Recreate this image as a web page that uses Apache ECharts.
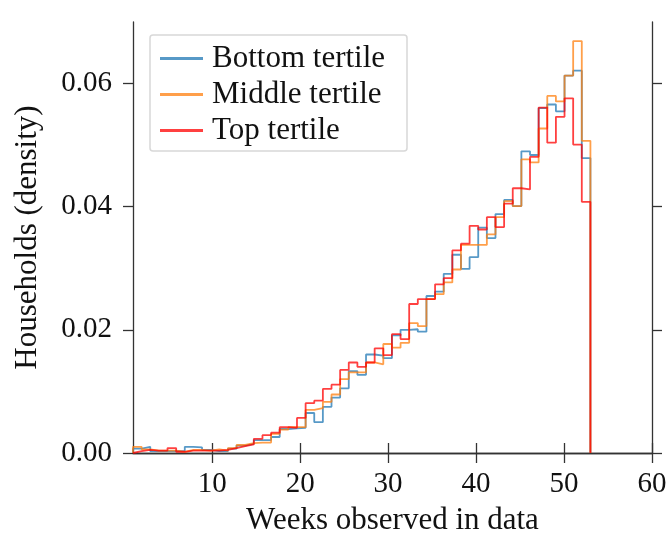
<!DOCTYPE html>
<html>
<head>
<meta charset="utf-8">
<script src="https://cdn.jsdelivr.net/npm/echarts@6/dist/echarts.min.js"></script>
<style>
html,body{margin:0;padding:0;background:#fff;}
#chart{width:668px;height:533px;}
</style>
</head>
<body>
<div id="chart"></div>
<script>
// Histogram bins: 53 equal-width bins spanning weeks 1..53
const binStart = 1;
const binEnd = 53;
const binCount = 53;

const seriesNames = ['Bottom tertile', 'Middle tertile', 'Top tertile'];

const bottomTertile = [
  0.0007, 0.0010, 0.0003, 0.0003, 0.0003, 0.0003, 0.0010, 0.0009, 0.0005, 0.0003,
  0.0003, 0.0007, 0.0012, 0.0015, 0.0021, 0.0021, 0.0026, 0.0039, 0.0040, 0.0041,
  0.0065, 0.0050, 0.0075, 0.0090, 0.0105, 0.0133, 0.0127, 0.0160, 0.0158, 0.0154,
  0.0191, 0.0200, 0.0201, 0.0197, 0.0255, 0.0262, 0.0291, 0.0322, 0.0299, 0.0318,
  0.0366, 0.0349, 0.0388, 0.0411, 0.0401, 0.0490, 0.0484, 0.0560, 0.0566, 0.0555,
  0.0613, 0.0621, 0.0479
];
const middleTertile = [
  0.0010, 0.0006, 0.0004, 0.0004, 0.0004, 0.0002, 0.0005, 0.0005, 0.0004, 0.0006,
  0.0004, 0.0008, 0.0013, 0.0016, 0.0017, 0.0017, 0.0031, 0.0038, 0.0042, 0.0042,
  0.0070, 0.0073, 0.0083, 0.0095, 0.0120, 0.0131, 0.0131, 0.0147, 0.0144, 0.0177,
  0.0171, 0.0179, 0.0211, 0.0206, 0.0250, 0.0258, 0.0277, 0.0298, 0.0338, 0.0338,
  0.0338, 0.0355, 0.0383, 0.0409, 0.0401, 0.0477, 0.0472, 0.0527, 0.0580, 0.0571,
  0.0613, 0.0669, 0.0507
];
const topTertile = [
  0.0003, 0.0005, 0.0004, 0.0004, 0.0008, 0.0002, 0.0004, 0.0004, 0.0004, 0.0004,
  0.0005, 0.0008, 0.0011, 0.0014, 0.0023, 0.0029, 0.0033, 0.0042, 0.0041, 0.0057,
  0.0081, 0.0085, 0.0104, 0.0111, 0.0135, 0.0147, 0.0140, 0.0147, 0.0170, 0.0159,
  0.0193, 0.0185, 0.0242, 0.0250, 0.0250, 0.0274, 0.0284, 0.0329, 0.0340, 0.0369,
  0.0363, 0.0383, 0.0367, 0.0405, 0.0430, 0.0428, 0.0481, 0.0561, 0.0504, 0.0546,
  0.0576, 0.0501, 0.0408
];

const xTicks = [10, 20, 30, 40, 50, 60];
const yTicks = [0, 0.02, 0.04, 0.06];

const FONT = "'Liberation Serif', 'Times New Roman', serif";
const colors = ['rgba(31,119,180,0.75)', 'rgba(255,127,14,0.75)', 'rgba(255,0,0,0.75)'];

const binWidth = (binEnd - binStart) / binCount;
const edges = [];
for (let k = 0; k <= binCount; k++) edges.push(binStart + k * binWidth);

function stepData(vals) {
  const pts = [[edges[0], 0]];
  for (let j = 0; j < vals.length; j++) pts.push([edges[j], vals[j]]);
  pts.push([edges[vals.length], vals[vals.length - 1]]);
  pts.push([edges[vals.length], 0]);
  return pts;
}

const axisLineStyle = { color: '#333', width: 1.3 };
const tickStyle = { color: '#333', width: 1.3 };

const chart = echarts.init(document.getElementById('chart'), null, { renderer: 'canvas' });
chart.setOption({
  animation: false,
  backgroundColor: '#fff',
  grid: { left: 133, right: 16, top: 22, bottom: 80, containLabel: false, outerBoundsMode: 'none' },
  graphic: [{
    type: 'rect', z: 50,
    shape: { x: 150, y: 35, width: 257, height: 116, r: 3 },
    style: { fill: 'rgba(255,255,255,0.85)', stroke: '#d8d8d8', lineWidth: 1.5 }
  }],
  legend: {
    z: 60,
    orient: 'vertical', left: 160, top: 43, padding: 0,
    itemWidth: 43, itemHeight: 3, itemGap: 5,
    icon: 'rect',
    data: seriesNames,
    textStyle: { fontFamily: FONT, fontSize: 31, color: '#111', lineHeight: 30, padding: [0, 0, 0, 4] }
  },
  xAxis: [{
    type: 'value', min: 1, max: 60, position: 'bottom',
    name: 'Weeks observed in data', nameLocation: 'middle', nameGap: 52,
    nameTextStyle: { fontFamily: FONT, fontSize: 31, color: '#111' },
    axisLine: { show: true, lineStyle: axisLineStyle },
    axisTick: { show: true, inside: false, length: 10, lineStyle: tickStyle, customValues: xTicks },
    axisLabel: { show: true, margin: 17, fontFamily: FONT, fontSize: 29, color: '#111', customValues: xTicks },
    splitLine: { show: false }
  }, {
    type: 'value', min: 1, max: 60, position: 'top',
    axisLine: { show: true, lineStyle: axisLineStyle },
    axisTick: { show: true, inside: false, length: 10, lineStyle: tickStyle, customValues: xTicks },
    axisLabel: { show: false },
    splitLine: { show: false }
  }],
  yAxis: [{
    type: 'value', min: 0, max: 0.07, position: 'left',
    name: 'Households (density)', nameLocation: 'middle', nameGap: 90,
    nameTextStyle: { fontFamily: FONT, fontSize: 31, color: '#111' },
    axisLine: { show: true, lineStyle: axisLineStyle },
    axisTick: { show: true, inside: false, length: 10, lineStyle: tickStyle, customValues: yTicks },
    axisLabel: { show: true, margin: 21, fontFamily: FONT, fontSize: 29, color: '#111', customValues: yTicks,
      formatter: v => v.toFixed(2) },
    splitLine: { show: false }
  }, {
    type: 'value', min: 0, max: 0.07, position: 'right',
    axisLine: { show: true, lineStyle: axisLineStyle },
    axisTick: { show: true, inside: false, length: 10, lineStyle: tickStyle, customValues: yTicks },
    axisLabel: { show: false },
    splitLine: { show: false }
  }],
  series: [bottomTertile, middleTertile, topTertile].map((vals, i) => ({
    name: seriesNames[i],
    type: 'line',
    step: 'end',
    showSymbol: false,
    symbol: 'none',
    xAxisIndex: 0, yAxisIndex: 0,
    color: colors[i],
    itemStyle: { color: colors[i] },
    lineStyle: { color: colors[i], width: 1.8 },
    data: stepData(vals)
  }))
});
</script>
</body>
</html>
